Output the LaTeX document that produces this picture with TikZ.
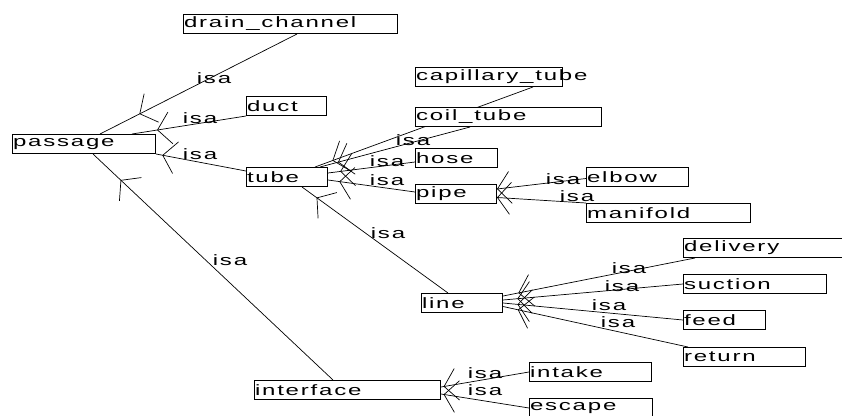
\documentclass[tikz,border=0pt]{standalone}
\usepackage{fontspec}
\newfontfamily\cgfont{Liberation Sans}[FakeStretch=1.6,LetterSpace=12]
\newcommand{\cgsize}{\cgfont\fontsize{15pt}{17pt}\selectfont}
\usetikzlibrary{arrows.meta,decorations.markings,backgrounds}
\tikzset{
  concept/.style={draw, line width=1pt, fill=white, anchor=north west,
    inner xsep=0.5pt, inner ysep=0pt, minimum height=19pt, text width=#1, font=\cgsize},
  isalink/.style={line width=0.7pt, postaction={decorate},
    decoration={markings, mark=at position #1 with {\arrow{Straight Barb[length=13pt,width=32pt]}}}},
  isalabel/.style={inner sep=0pt, font=\cgsize}
}
\begin{document}
\begin{tikzpicture}[x=1pt,y=-1pt]
  \useasboundingbox (0,0) rectangle (842,415);
  % concept boxes
  \node[concept=213pt] (drain) at (183,14) {drain\_channel};
  \node[concept=146pt] (capillary) at (415,67) {capillary\_tube};
  \node[concept=79pt] (duct) at (246,96) {duct};
  \node[concept=185pt] (coil) at (415,107) {coil\_tube};
  \node[concept=142pt] (passage) at (12,134) {passage};
  \node[concept=81pt] (hose) at (415,148) {hose};
  \node[concept=80pt] (tube) at (246,167) {tube};
  \node[concept=80pt] (pipe) at (415,184) {pipe};
  \node[concept=101pt] (elbow) at (586,167) {elbow};
  \node[concept=163pt] (manifold) at (586,203) {manifold};
  \node[concept=169pt] (delivery) at (683,238) {delivery};
  \node[concept=142pt] (suction) at (683,274) {suction};
  \node[concept=80pt] (line) at (421,293) {line};
  \node[concept=81pt] (feed) at (683,310) {feed};
  \node[concept=121pt] (return) at (683,347) {return};
  \node[concept=185pt] (interface) at (254,380) {interface};
  \node[concept=121pt] (intake) at (529,362) {intake};
  \node[concept=122pt] (escape) at (529,398) {escape};
  % isa links
  \begin{pgfonlayer}{background}
    \fill[white] (0,0) rectangle (842,415);
    \draw[isalink=0.8] ([xshift=114pt]drain.south west) -- ([xshift=88pt]passage.north west);
    \draw[isalink=0.78] (duct.south west) -- ([xshift=120pt]passage.north west);
    \draw[isalink=0.93] ([yshift=6pt]tube.west) -- (passage.south east);
    \draw[isalink=0.885] ([xshift=79pt]interface.north west) -- ([xshift=81pt]passage.south west);
    \draw[isalink=0.92] ([xshift=118pt]capillary.south west) -- ([xshift=69pt]tube.north west);
    \draw[isalink=0.88] ([xshift=55pt]coil.south west) -- ([xshift=74pt]tube.north west);
    \draw[isalink=0.86] ([yshift=-4pt]hose.west) -- ([yshift=4pt]tube.east);
    \draw[isalink=0.87] ([yshift=2pt]pipe.west) -- ([yshift=-3pt]tube.east);
    \draw[isalink=0.9] ([xshift=27pt]line.north west) -- ([xshift=56pt]tube.south west);
    \draw[isalink=1] ([yshift=-1.5pt]elbow.west) -- ([yshift=5pt]pipe.east);
    \draw[isalink=1] (manifold.north west) -- ([yshift=-3.5pt]pipe.east);
    \draw[isalink=0.92] ([xshift=12pt]delivery.south west) -- ([yshift=-3pt]line.north east);
    \draw[isalink=0.92] (suction.west) -- ([yshift=3pt]line.east);
    \draw[isalink=0.92] (feed.west) -- (line.east);
    \draw[isalink=0.92] ([xshift=5pt]return.north west) -- ([yshift=-3.5pt]line.east);
    \draw[isalink=0.97] (intake.west) -- ([yshift=3pt]interface.east);
    \draw[isalink=0.97] (escape.west) -- ([yshift=-4pt]interface.east);
  \end{pgfonlayer}
  % labels
  \node[isalabel] (isa1) at (214,78) {isa};
  \node[isalabel] (isa2) at (200,118) {isa};
  \node[isalabel] (isa3) at (200,154) {isa};
  \node[isalabel] (isa4) at (230,260) {isa};
  \node[isalabel] (isa5) at (413,140) {isa};
  \node[isalabel] (isa6) at (387,161) {isa};
  \node[isalabel] (isa7) at (387,180) {isa};
  \node[isalabel] (isa8) at (388,233) {isa};
  \node[isalabel] (isa9) at (563,179) {isa};
  \node[isalabel] (isa10) at (577,196) {isa};
  \node[isalabel] (isa11) at (629,268) {isa};
  \node[isalabel] (isa12) at (622,286) {isa};
  \node[isalabel] (isa13) at (609,305) {isa};
  \node[isalabel] (isa14) at (618,322) {isa};
  \node[isalabel] (isa15) at (485,373) {isa};
  \node[isalabel] (isa16) at (485,390) {isa};
\end{tikzpicture}
\end{document}
